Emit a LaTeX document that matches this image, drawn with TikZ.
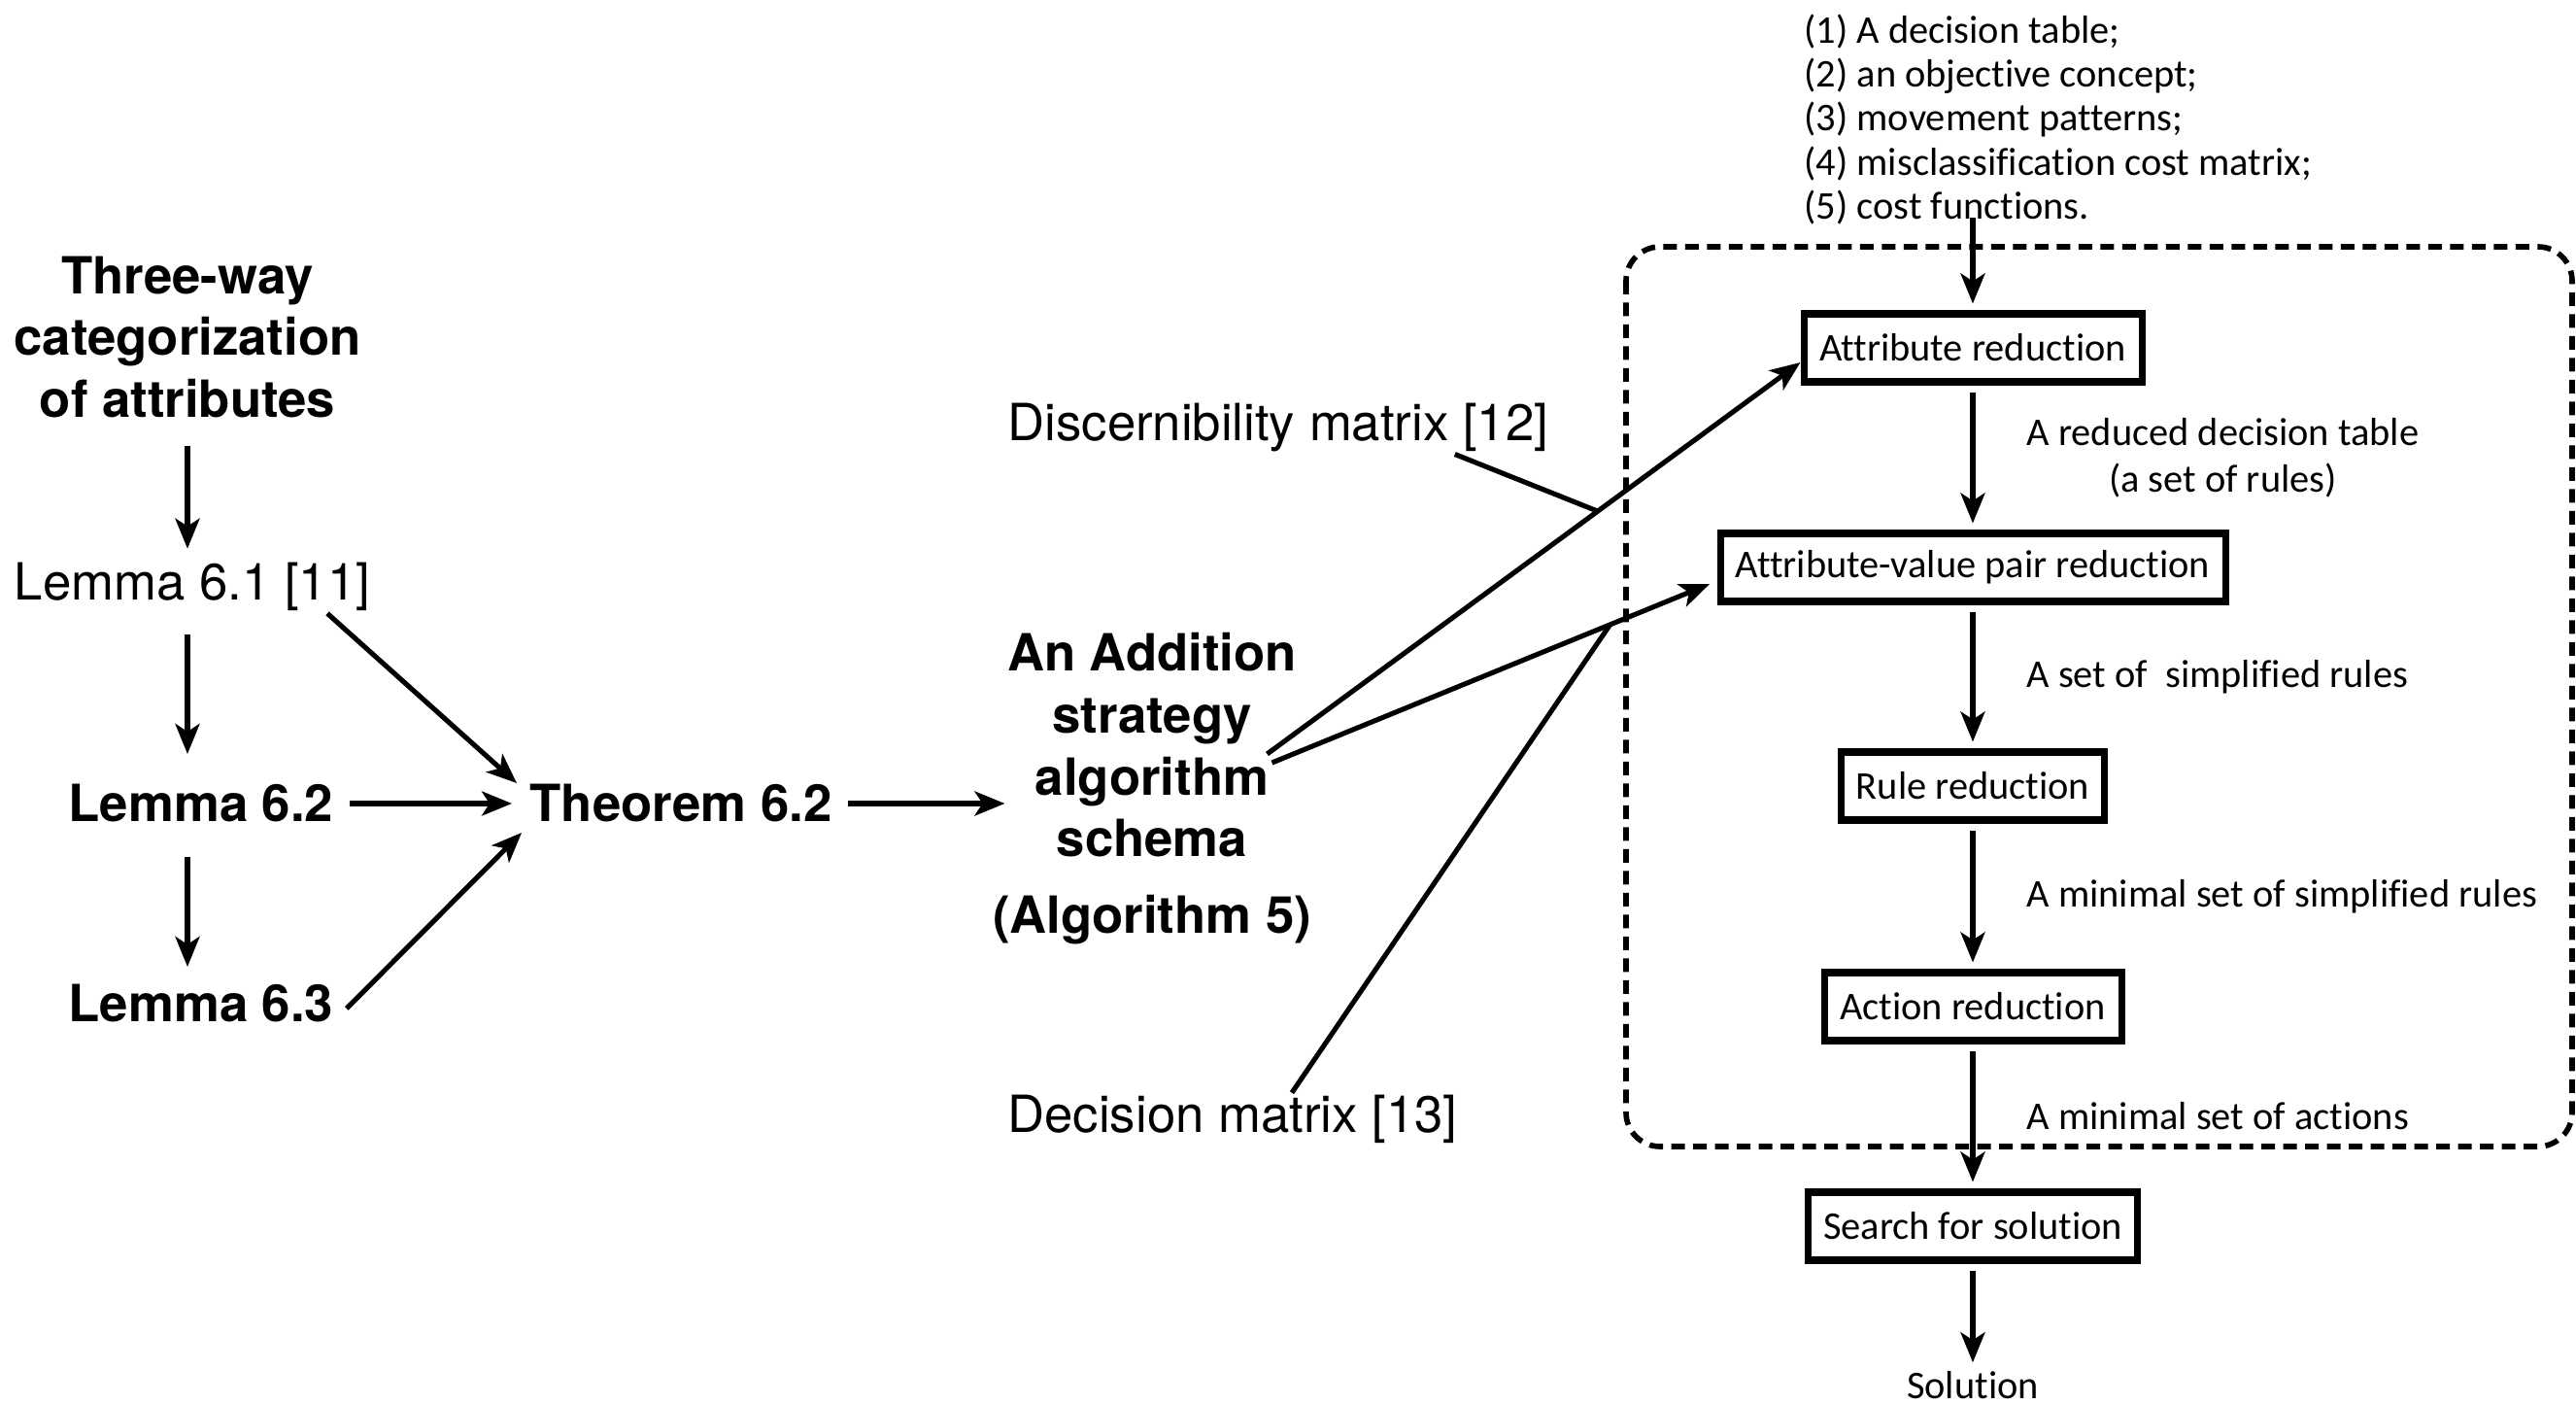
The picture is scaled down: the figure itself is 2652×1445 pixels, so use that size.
\documentclass[tikz,border=0pt]{standalone}
\usepackage{fontspec}
\setmainfont{TeX Gyre Heros}
\newfontfamily\gillfont[Ligatures=NoCommon]{Carlito}
\usetikzlibrary{arrows.meta}
\tikzset{>/.tip={Stealth[length=3.1mm,width=2.5mm,inset=0.8mm]}}

\begin{document}
\begin{tikzpicture}[x=0.1mm,y=-0.1mm,line width=1.45pt,
  plain/.style={inner sep=0pt,font=\fontsize{15}{18}\selectfont},
  heavy/.style={inner sep=0pt,align=center,font=\fontsize{15}{18.1}\bfseries},
  small/.style={inner sep=0pt,font=\gillfont\fontsize{11.5}{13.6}\selectfont},
  stage/.style={small,draw,line width=2pt,minimum height=7mm},
  flow/.style={->,shorten <=0.7mm,shorten >=0.7mm},
  note/.style={small,right=5.3mm}]
\useasboundingbox (0,0) rectangle (2652,1445);

\node[heavy] (three) at (193,347) {Three-way\\categorization\\of attributes};
\node[plain] (lem61) at (198,604) {Lemma 6.1 [11]};
\node[heavy] (lem62) at (207,827) {Lemma 6.2};
\node[heavy] (lem63) at (207,1033) {Lemma 6.3};
\node[heavy] (thm) at (701,827) {Theorem 6.2};

\node[heavy] (alg) at (1186,767) {An Addition\\strategy\\algorithm\\schema};
\node[heavy] (algno) at (1186,947) {(Algorithm 5)};
\node[plain,anchor=west] (disc) at (1035,440) {Discernibility matrix [12]};
\node[plain,anchor=west] (dec) at (1035,1152) {Decision matrix [13]};

\node[small,align=left,anchor=north west,font=\gillfont\fontsize{11.5}{12.9}\selectfont] (input) at (1855,12)
  {(1) A decision table;\\(2) an objective concept;\\(3) movement patterns;\\(4) misclassification cost matrix;\\(5) cost functions.};
\node[stage,minimum width=34.8mm] (attr) at (2031,358) {Attribute reduction};
\node[stage,minimum width=52mm] (avp) at (2031,584) {Attribute-value pair reduction};
\node[stage,minimum width=27.1mm] (rule) at (2031,809) {Rule reduction};
\node[stage,minimum width=30.6mm] (act) at (2031,1036) {Action reduction};
\node[stage,minimum width=33.9mm] (search) at (2031,1262) {Search for solution};
\node[small] (sol) at (2031,1426) {Solution};

% dashed frame around the reduction steps
\draw[line width=1.6pt,dash pattern=on 1.4mm off 0.85mm,rounded corners=3.5mm] (1674,254) rectangle (2648,1180);

\draw[->,shorten <=2.6mm,shorten >=1.2mm] (three.south) -- (three.south |- lem61.north);
\draw[->,shorten <=2.2mm,shorten >=2.9mm] (three.south |- lem61.south) -- (three.south |- lem62.north);
\draw[->,shorten <=3.3mm,shorten >=1.6mm] (three.south |- lem62.south) -- (three.south |- lem63.north);
\draw[->] ([xshift=13.9mm]lem61.south) -- ([xshift=-1.1mm,yshift=2.1mm]thm.west);
\draw[->,shorten <=1.4mm,shorten >=1.6mm] (lem62.east) -- (thm.west);
\draw[->] ([xshift=1.1mm,yshift=-0.5mm]lem63.east) -- ([xshift=-0.6mm,yshift=-3mm]thm.west);
\draw[->,shorten <=1.4mm] (thm.east) -- (thm.east -| alg.west);

\draw[->] ([xshift=-3.3mm,yshift=-0.9mm]alg.east) -- coordinate[pos=0.62] (hitA) ([yshift=-1.5mm]attr.west);
\draw[->,shorten >=0.8mm] ([xshift=-2.8mm,yshift=-1.8mm]alg.east) -- coordinate[pos=0.76] (hitB) ([yshift=-1.4mm]avp.west);
\draw ([xshift=18.2mm]disc.south) -- (hitA);
\draw ([xshift=6.1mm]dec.north) -- (hitB);

\draw[->,shorten <=-1mm,shorten >=0.7mm] (input.south -| attr.north) -- (attr.north);
\draw[flow] (attr) -- node[note,align=center] (n1) {A reduced decision table\\(a set of rules)} (avp);
\draw[flow] (avp) -- node[note] (n2) {A set of~ simplified rules} (rule);
\draw[flow] (rule) -- node[note] (n3) {A minimal set of simplified rules} (act);
\draw[flow] (act) -- node[note] (n4) {A minimal set of actions} (search);
\draw[flow] (search) -- (sol);
\end{tikzpicture}
\end{document}
